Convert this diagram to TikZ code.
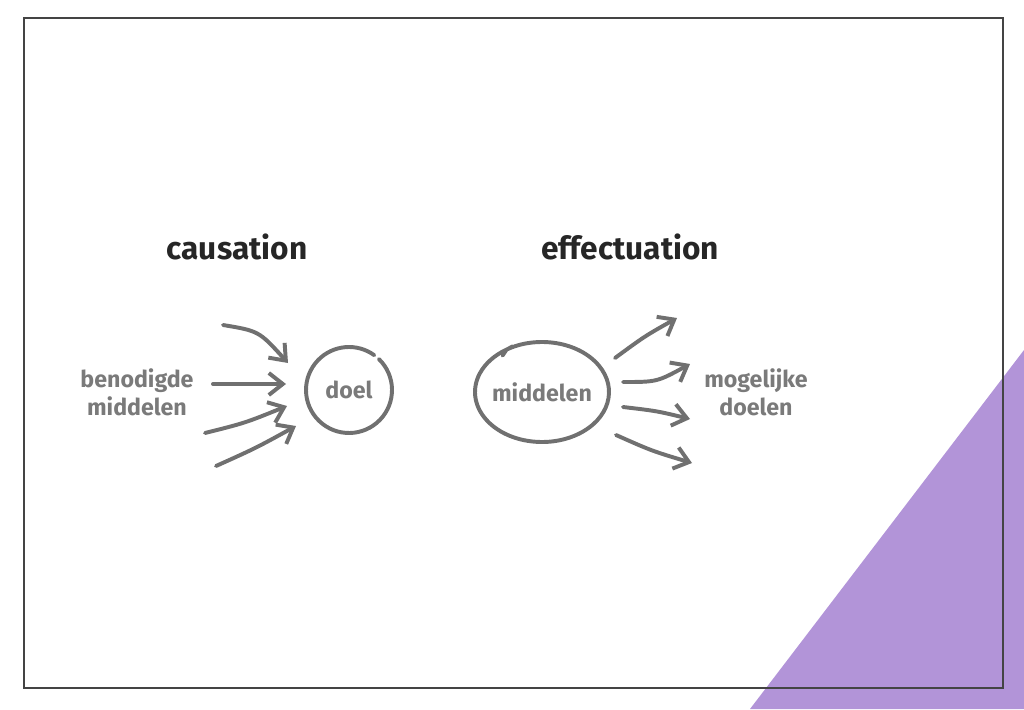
\documentclass[tikz,border=0pt]{standalone}
\usepackage{fontspec}
\setmainfont{Fira Sans}
\usetikzlibrary{arrows.meta, positioning}

\definecolor{lijngrijs}{HTML}{707070}
\definecolor{tekstgrijs}{HTML}{7A7A7A}
\definecolor{kopzwart}{HTML}{262626}
\definecolor{kader}{HTML}{444444}
\definecolor{paars}{HTML}{B294D8}

\tikzset{
  kop/.style={text=kopzwart, font=\fontsize{22.5}{26}\selectfont\bfseries},
  label/.style={text=tekstgrijs, align=center, font=\fontsize{16.5}{20}\selectfont\bfseries},
  schets/.style={draw=lijngrijs, line width=2.8pt, line cap=round},
  pijl/.style={schets, -{Straight Barb[length=3.5mm, width=5.5mm]}}
}

\begin{document}
\begin{tikzpicture}[x=0.025cm, y=-0.025cm]

  \useasboundingbox (0,0) rectangle (1024,709);

  %% achtergrond
  \fill[paars] (750,709) -- (1024,350) -- (1024,709) -- cycle;

  %% causation

  % kop en teksten
  \node[kop] (causation) at (237,247) {causation};
  \node[label] (benodigd) at (137,392) {benodigde\\middelen};
  \node[label] (doel) at (349,390) {doel};
  \draw[schets] ([shift={(-46:43)}]doel.center) arc (-46:306:43);

  % pijlen naar het doel
  \coordinate (c1) at (223,325);
  \coordinate (c2) at (213,384);
  \coordinate (c3) at (205,433);
  \coordinate (c4) at (216,466);
  \coordinate (d1) at (288,363);
  \coordinate (d2) at (286,384);
  \coordinate (d3) at (287,406);
  \coordinate (d4) at (296,426);
  \draw[pijl] (c1) .. controls +(36,6) .. (d1);
  \draw[pijl] (c2) -- (d2);
  \draw[pijl] (c3) .. controls +(40,-10) .. (d3);
  \draw[pijl] (c4) .. controls +(40,-18) .. (d4);

  %% effectuation

  % kop en teksten
  \node[kop] (effectuation) at (630,247) {effectuation};
  \node[label] (middelen) at (542,392) {middelen};
  \node[label] (mogelijk) at (756,392) {mogelijke\\doelen};
  \draw[schets] ([shift={(232:67 and 50)}]middelen.center) arc (232:598:67 and 50)
    -- ++(-4,6);

  % pijlen naar mogelijke doelen
  \coordinate (m1) at (615,358);
  \coordinate (m2) at (623,382);
  \coordinate (m3) at (623,407);
  \coordinate (m4) at (616,435);
  \coordinate (e1) at (677,318);
  \coordinate (e2) at (690,364);
  \coordinate (e3) at (690,419);
  \coordinate (e4) at (692,463);
  \draw[pijl] (m1) .. controls +(30,-22) .. (e1);
  \draw[pijl] (m2) .. controls +(34,0) .. (e2);
  \draw[pijl] (m3) .. controls +(34,4) .. (e3);
  \draw[pijl] (m4) .. controls +(36,16) .. (e4);

  %% kader, over de driehoek heen
  \draw[kader, line width=1.5pt] (24,18) rectangle (1003,688);

\end{tikzpicture}
\end{document}
